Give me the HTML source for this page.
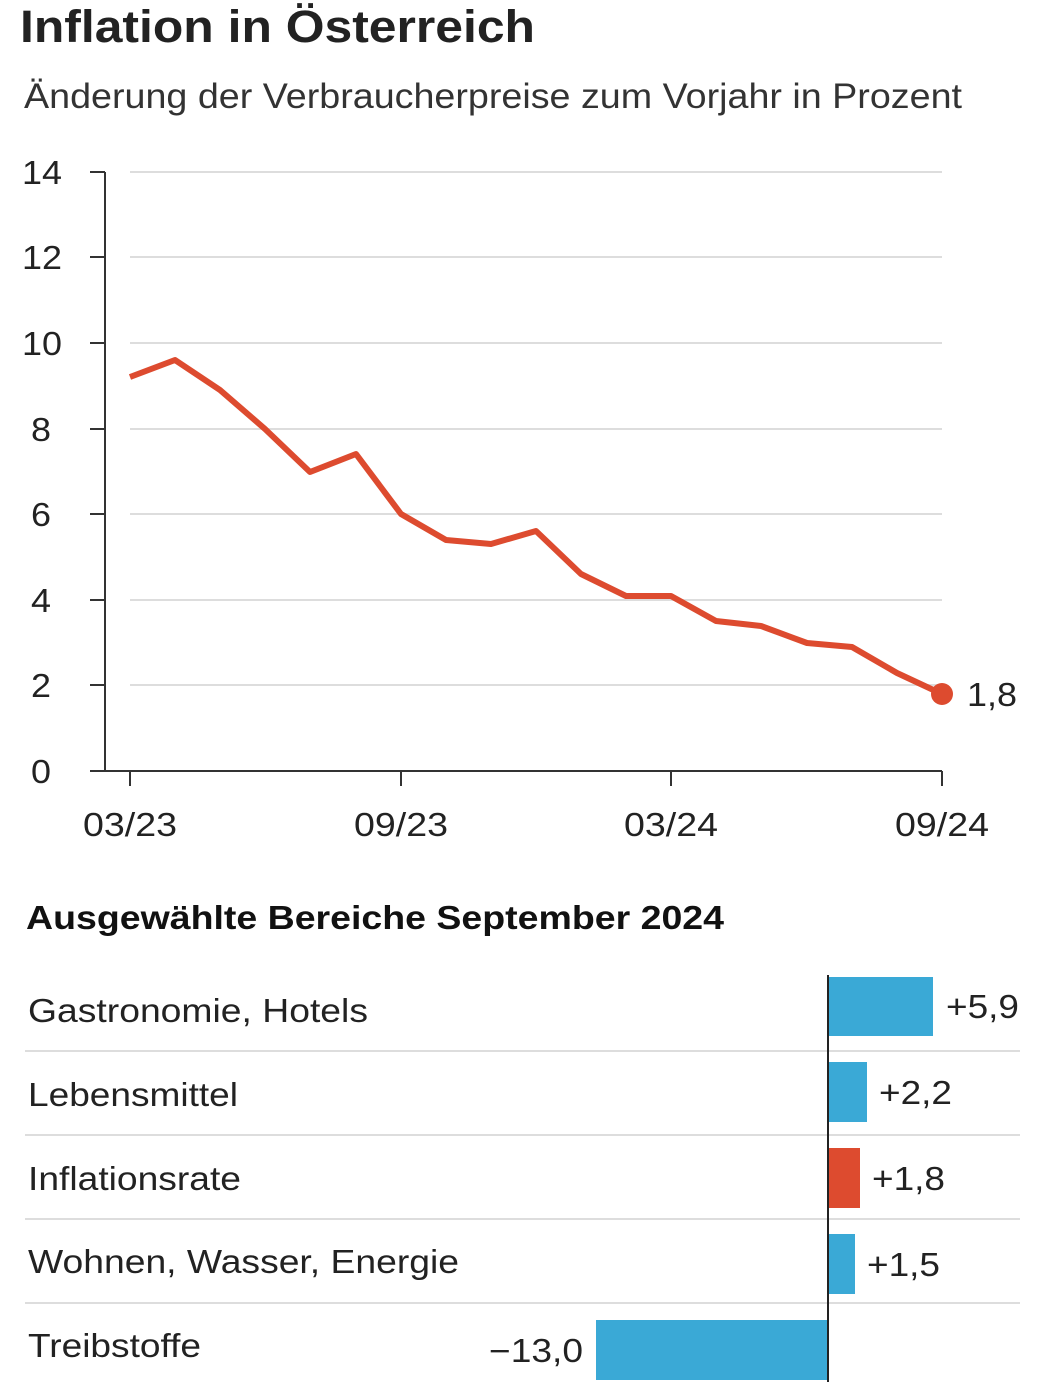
<!DOCTYPE html>
<html><head><meta charset="utf-8"><style>
body{margin:0;background:#fff;width:1039px;height:1385px;overflow:hidden;font-family:"Liberation Sans",sans-serif;color:#222}
</style></head><body>
<svg width="1039" height="1385" xmlns="http://www.w3.org/2000/svg" font-family="Liberation Sans, sans-serif">
<text x="20" y="42" font-size="45" font-weight="bold" fill="#222" textLength="515" lengthAdjust="spacingAndGlyphs">Inflation in Österreich</text>
<text x="24" y="108" font-size="35" fill="#333" textLength="938" lengthAdjust="spacingAndGlyphs">Änderung der Verbraucherpreise zum Vorjahr in Prozent</text>
<g stroke="#ddd" stroke-width="2">
<line x1="130" y1="172" x2="942" y2="172"/><line x1="130" y1="257" x2="942" y2="257"/><line x1="130" y1="343" x2="942" y2="343"/><line x1="130" y1="429" x2="942" y2="429"/><line x1="130" y1="514" x2="942" y2="514"/><line x1="130" y1="600" x2="942" y2="600"/><line x1="130" y1="685" x2="942" y2="685"/>
</g>
<g stroke="#333" stroke-width="2">
<line x1="105" y1="172" x2="105" y2="771"/><line x1="90" y1="771" x2="942" y2="771"/>
<line x1="90" y1="172" x2="105" y2="172"/><line x1="90" y1="257" x2="105" y2="257"/><line x1="90" y1="343" x2="105" y2="343"/><line x1="90" y1="429" x2="105" y2="429"/><line x1="90" y1="514" x2="105" y2="514"/><line x1="90" y1="600" x2="105" y2="600"/><line x1="90" y1="685" x2="105" y2="685"/>
<line x1="130" y1="771" x2="130" y2="786"/><line x1="401" y1="771" x2="401" y2="786"/><line x1="671" y1="771" x2="671" y2="786"/><line x1="942" y1="771" x2="942" y2="786"/>
</g>
<g font-size="33" fill="#222">
<text x="22" y="184" textLength="40" lengthAdjust="spacingAndGlyphs">14</text><text x="22" y="269" textLength="40" lengthAdjust="spacingAndGlyphs">12</text><text x="22" y="355" textLength="40" lengthAdjust="spacingAndGlyphs">10</text><text x="31" y="441" textLength="20" lengthAdjust="spacingAndGlyphs">8</text><text x="31" y="526" textLength="20" lengthAdjust="spacingAndGlyphs">6</text><text x="31" y="612" textLength="20" lengthAdjust="spacingAndGlyphs">4</text><text x="31" y="697" textLength="20" lengthAdjust="spacingAndGlyphs">2</text><text x="31" y="783" textLength="20" lengthAdjust="spacingAndGlyphs">0</text>
</g>
<g font-size="33" fill="#222">
<text x="83" y="836" textLength="94" lengthAdjust="spacingAndGlyphs">03/23</text><text x="354" y="836" textLength="94" lengthAdjust="spacingAndGlyphs">09/23</text><text x="624" y="836" textLength="94" lengthAdjust="spacingAndGlyphs">03/24</text><text x="895" y="836" textLength="94" lengthAdjust="spacingAndGlyphs">09/24</text>
</g>
<polyline fill="none" stroke="#dd4b2f" stroke-width="6" stroke-linejoin="round" points="130,377 175,360 220,390 265,429 310,472 356,454 401,514 446,540 491,544 536,531 581,574 626,596 671,596 716,621 761,626 807,643 852,647 897,673 942,694"/>
<circle cx="942" cy="694" r="11" fill="#dd4b2f"/>
<text x="967" y="706" font-size="33" fill="#222" textLength="50" lengthAdjust="spacingAndGlyphs">1,8</text>
<text x="26" y="929" font-size="33" font-weight="bold" fill="#111" textLength="698" lengthAdjust="spacingAndGlyphs">Ausgewählte Bereiche September 2024</text>
<g stroke="#ddd" stroke-width="2">
<line x1="25" y1="1051" x2="1020" y2="1051"/><line x1="25" y1="1135" x2="1020" y2="1135"/><line x1="25" y1="1219" x2="1020" y2="1219"/><line x1="25" y1="1303" x2="1020" y2="1303"/>
</g>
<g font-size="33" fill="#222">
<text x="28" y="1022" textLength="340" lengthAdjust="spacingAndGlyphs">Gastronomie, Hotels</text>
<text x="28" y="1106" textLength="210" lengthAdjust="spacingAndGlyphs">Lebensmittel</text>
<text x="28" y="1190" textLength="213" lengthAdjust="spacingAndGlyphs">Inflationsrate</text>
<text x="28" y="1273" textLength="431" lengthAdjust="spacingAndGlyphs">Wohnen, Wasser, Energie</text>
<text x="28" y="1357" textLength="173" lengthAdjust="spacingAndGlyphs">Treibstoffe</text>
</g>
<rect x="828" y="977" width="105" height="59" fill="#3aa9d6"/>
<rect x="828" y="1062" width="39" height="60" fill="#3aa9d6"/>
<rect x="828" y="1148" width="32" height="60" fill="#dd4b2f"/>
<rect x="828" y="1234" width="27" height="60" fill="#3aa9d6"/>
<rect x="596" y="1320" width="232" height="60" fill="#3aa9d6"/>
<line x1="828" y1="975" x2="828" y2="1382" stroke="#222" stroke-width="2"/>
<g font-size="33" fill="#222">
<text x="946" y="1018" textLength="73" lengthAdjust="spacingAndGlyphs">+5,9</text>
<text x="879" y="1104" textLength="73" lengthAdjust="spacingAndGlyphs">+2,2</text>
<text x="872" y="1190" textLength="73" lengthAdjust="spacingAndGlyphs">+1,8</text>
<text x="867" y="1276" textLength="73" lengthAdjust="spacingAndGlyphs">+1,5</text>
<text x="489" y="1362" textLength="94" lengthAdjust="spacingAndGlyphs">−13,0</text>
</g>
</svg>
</body></html>
